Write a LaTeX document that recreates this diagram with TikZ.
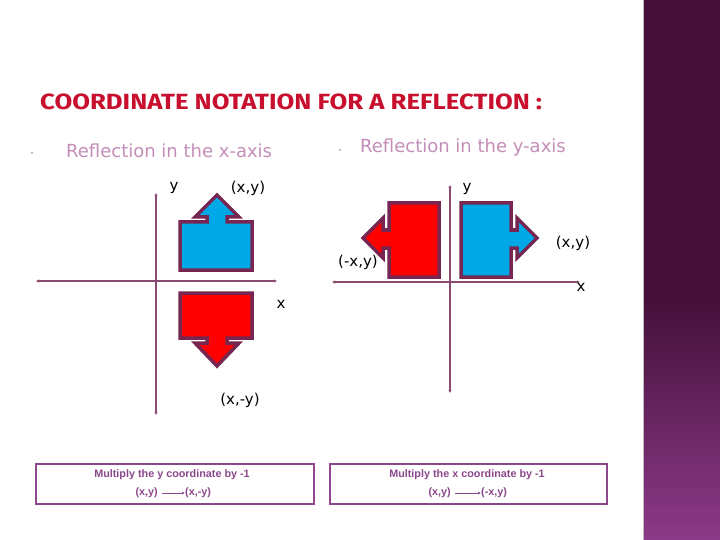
\documentclass[tikz,border=0pt]{standalone}
\usepackage{fontspec}
\setmainfont{DejaVu Sans}
\newfontfamily\titlefont{Fira Sans}
\newfontfamily\boxfont{Liberation Sans}
\usetikzlibrary{arrows.meta}
\definecolor{titlered}{RGB}{200,16,46}
\definecolor{bulletpink}{RGB}{196,142,184}
\definecolor{axismauve}{RGB}{138,74,112}
\definecolor{edgeplum}{RGB}{118,38,80}
\definecolor{shapeblue}{RGB}{0,168,232}
\definecolor{shapered}{RGB}{255,0,0}
\definecolor{boxpurple}{RGB}{140,72,140}
\definecolor{barmid}{RGB}{68,16,58}
\definecolor{barbottom}{RGB}{140,58,136}

\begin{document}
\begin{tikzpicture}[x=1pt, y=-1pt,
    axis/.style={draw=axismauve, line width=1.6pt, {Latex[length=3pt,width=3.5pt]}-{Latex[length=3pt,width=3.5pt]}},
    flip/.style={draw=edgeplum, line width=3.5pt, line join=miter},
    lbl/.style={font=\fontsize{15}{17}\selectfont, black, inner sep=0pt},
    head/.style={font=\fontsize{18}{20}\selectfont, bulletpink, anchor=west, inner sep=0pt},
    rulebox/.style={draw=boxpurple, line width=2pt, minimum height=40pt, inner sep=0pt},
    boxtext/.style={font=\boxfont\bfseries\fontsize{10.8}{12}\selectfont, boxpurple, inner sep=0pt},
]
    \useasboundingbox (0,0) rectangle (720,540);
    \fill[white] (0,0) rectangle (720,540);

    % Side bar
    \fill[barmid] (643,0) rectangle (720,300);
    \shade[top color=barmid, bottom color=barbottom] (643,300) rectangle (720,540);
    \draw[white!70!barmid, line width=1pt] (643.5,0) -- (643.5,540);

    % Title
    \node[font=\titlefont\bfseries\fontsize{22}{25}\selectfont, titlered, anchor=west, inner sep=0pt] (title) at (40,102) {\scalebox{1.17}[1]{COORDINATE NOTATION FOR A REFLECTION :}};

    % Headings
    \node[head] (xhead) at (66,151) {Reflection in the x-axis};
    \node[head] (yhead) at (360,148) {Reflection in the y-axis};
    \fill[bulletpink!70!gray] (32,153) circle (1pt) (340,150) circle (1pt);

    % Left axes
    \coordinate (lxa) at (36,281);
    \coordinate (lxb) at (277,281);
    \coordinate (lya) at (156,193);
    \coordinate (lyb) at (156,415);
    \draw[axis] (lxa) -- (lxb);
    \draw[axis] (lya) -- (lyb);

    % Left shapes
    \draw[flip, fill=shapeblue] (180,222) -- (207,222) -- (207,217) -- (195,217) -- (217,195) -- (239,217) -- (227,217) -- (227,222) -- (252,222) -- (252,270) -- (180,270) -- cycle;
    \draw[flip, fill=shapered] (180,293) -- (252,293) -- (252,338) -- (227,338) -- (227,343) -- (239,343) -- (217,366) -- (195,343) -- (207,343) -- (207,338) -- (180,338) -- cycle;

    % Left labels
    \node[lbl] (ly) at (174,188) {y};
    \node[lbl] (lp) at (248,188) {(x,y)};
    \node[lbl] (lx) at (281,304) {x};
    \node[lbl] (lq) at (240,400) {(x,-y)};

    % Right axes
    \coordinate (rxa) at (332,282);
    \coordinate (rxb) at (580,282);
    \coordinate (rya) at (450,185);
    \coordinate (ryb) at (450,393);
    \draw[axis] (rxa) -- (rxb);
    \draw[axis] (rya) -- (ryb);

    % Right shapes
    \draw[flip, fill=shapered] (389,203) -- (439,203) -- (439,277) -- (389,277) -- (389,248) -- (383,248) -- (383,258) -- (363,238) -- (383,218) -- (383,230) -- (389,230) -- cycle;
    \draw[flip, fill=shapeblue] (461,203) -- (511,203) -- (511,230) -- (517,230) -- (517,218) -- (537,238) -- (517,258) -- (517,248) -- (511,248) -- (511,277) -- (461,277) -- cycle;

    % Right labels
    \node[lbl] (ry) at (467,189) {y};
    \node[lbl] (rp) at (573,243) {(x,y)};
    \node[lbl] (rq) at (358,262) {(-x,y)};
    \node[lbl] (rx) at (581,287) {x};

    % Rule boxes
    \node[rulebox, minimum width=278pt] (ybox) at (175,484) {};
    \node[rulebox, minimum width=277pt] (xbox) at (468.5,484) {};
    \node[boxtext] (yrule) at (172,474.5) {Multiply the y coordinate by -1};
    \node[boxtext] (xrule) at (467,474.5) {Multiply the x coordinate by -1};
    \node[boxtext, anchor=east] (yfrom) at (158,493) {(x,y)};
    \node[boxtext, anchor=west] (yto) at (185,493) {(x,-y)};
    \node[boxtext, anchor=east] (xfrom) at (451,493) {(x,y)};
    \node[boxtext, anchor=west] (xto) at (481,493) {(-x,y)};
    \draw[boxpurple, line width=1pt, -{Latex[length=3pt,width=3pt]}] ([xshift=4pt]yfrom.east) -- (yto.west);
    \draw[boxpurple, line width=1pt, -{Latex[length=3pt,width=3pt]}] ([xshift=4pt]xfrom.east) -- (xto.west);
\end{tikzpicture}
\end{document}
